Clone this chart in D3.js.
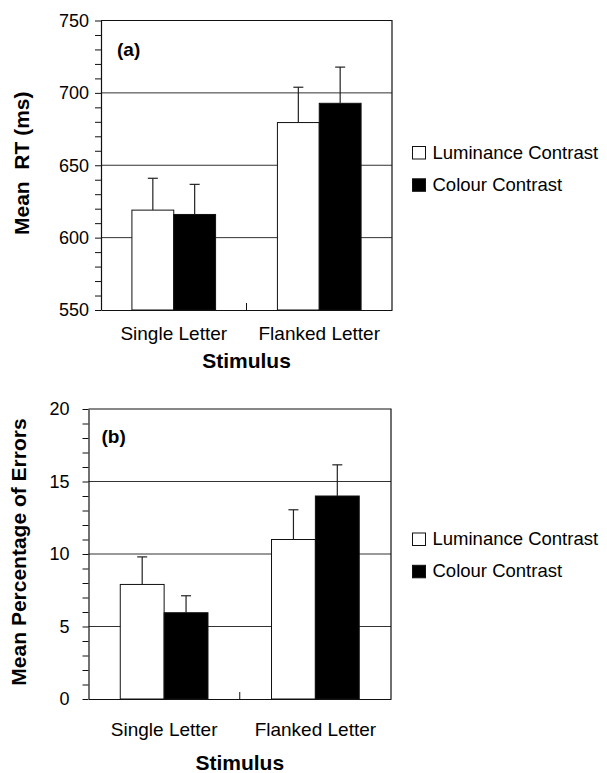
<!DOCTYPE html>
<html>
<head>
<meta charset="utf-8">
<script src="https://cdn.jsdelivr.net/npm/d3@7"></script>
<style>
  body { margin: 0; background: #fff; }
  svg { display: block; font-family: Arial, "Liberation Sans", sans-serif; }
</style>
</head>
<body>
<div id="chart-area"></div>
<script>
const categories = ["Single Letter", "Flanked Letter"];
const series = ["Luminance Contrast", "Colour Contrast"];

// panel (a): mean RT in ms
const rtLuminance = [619, 679.5];
const rtColour = [616, 692.8];
const rtLuminanceErr = [22, 24.4];
const rtColourErr = [20.8, 25];
const rtTicks = [550, 600, 650, 700, 750];

// panel (b): mean percentage of errors
const errLuminance = [7.9, 11.0];
const errColour = [5.95, 14.0];
const errLuminanceErr = [1.9, 2.05];
const errColourErr = [1.17, 2.15];
const errTicks = [0, 5, 10, 15, 20];

const svg = d3.select("#chart-area").append("svg")
    .attr("width", 607)
    .attr("height", 773);

const fill = d3.scaleOrdinal().domain(series).range(["#fff", "#000"]);

drawPanel(svg, {
    left: 101, right: 392, top: 20.5, bottom: 310,
    ticks: rtTicks, minorStep: 10, tickPad: 6,
    means: [rtLuminance, rtColour], errs: [rtLuminanceErr, rtColourErr],
    pad: 0.425, label: "(a)", labelX: 117, labelY: 56,
    yTitle: "Mean\u00A0 RT (ms)", yTitleX: 28.5, catY: 29.5, xTitleY: 58.3,
    legendTop: 146.5
});

drawPanel(svg, {
    left: 88.5, right: 391, top: 409, bottom: 699,
    ticks: errTicks, minorStep: 1, tickPad: 13,
    means: [errLuminance, errColour], errs: [errLuminanceErr, errColourErr],
    pad: 0.42, label: "(b)", labelX: 101.5, labelY: 442.5,
    yTitle: "Mean Percentage of Errors", yTitleX: 25.7, catY: 36.7, xTitleY: 70.5,
    legendTop: 533
});

function drawPanel(svg, cfg) {
    const g = svg.append("g");

    const x = d3.scaleBand()
        .domain(categories)
        .range([cfg.left, cfg.right])
        .paddingInner(cfg.pad)
        .paddingOuter(cfg.pad / 2);
    const xs = d3.scaleBand()
        .domain(series)
        .range([0, x.bandwidth()]);

    const domain = d3.extent(cfg.ticks);
    const y = d3.scaleLinear()
        .domain(domain)
        .range([cfg.bottom, cfg.top]);

    // gridlines on the inner major ticks
    g.selectAll("line.grid")
        .data(cfg.ticks.slice(1, -1))
        .join("line")
        .attr("class", "grid")
        .attr("x1", cfg.left).attr("x2", cfg.right)
        .attr("y1", d => y(d)).attr("y2", d => y(d))
        .attr("stroke", "#333")
        .attr("stroke-width", 1);

    // top and right frame
    g.append("path")
        .attr("d", `M${cfg.left},${y(domain[1])}H${cfg.right}V${y(domain[0])}`)
        .attr("fill", "none")
        .attr("stroke", "#111")
        .attr("stroke-width", 1.2);

    const rows = categories.flatMap((c, i) => series.map((s, j) => ({
        cat: c, ser: s, value: cfg.means[j][i], err: cfg.errs[j][i]
    })));

    g.selectAll("rect.bar")
        .data(rows)
        .join("rect")
        .attr("class", "bar")
        .attr("x", d => x(d.cat) + xs(d.ser))
        .attr("y", d => y(d.value))
        .attr("width", xs.bandwidth())
        .attr("height", d => y(domain[0]) - y(d.value))
        .attr("fill", d => fill(d.ser))
        .attr("stroke", "#111")
        .attr("stroke-width", 1);

    // error bars, upward only
    const capW = 10;
    const eb = g.selectAll("g.err")
        .data(rows)
        .join("g")
        .attr("class", "err")
        .attr("stroke", "#222")
        .attr("stroke-width", 1.2);
    eb.append("line")
        .attr("x1", d => x(d.cat) + xs(d.ser) + xs.bandwidth() / 2)
        .attr("x2", d => x(d.cat) + xs(d.ser) + xs.bandwidth() / 2)
        .attr("y1", d => y(d.value))
        .attr("y2", d => y(d.value + d.err));
    eb.append("line")
        .attr("x1", d => x(d.cat) + xs(d.ser) + xs.bandwidth() / 2 - capW / 2)
        .attr("x2", d => x(d.cat) + xs(d.ser) + xs.bandwidth() / 2 + capW / 2)
        .attr("y1", d => y(d.value + d.err))
        .attr("y2", d => y(d.value + d.err));

    // y axis with minor ticks
    const minor = d3.range(domain[0], domain[1] + cfg.minorStep / 2, cfg.minorStep);
    const yAxisCall = d3.axisLeft(y)
        .tickValues(minor)
        .tickSize(6)
        .tickSizeOuter(0)
        .tickPadding(cfg.tickPad)
        .tickFormat(d => cfg.ticks.includes(d) ? d : "");
    const ya = g.append("g")
        .attr("transform", `translate(${cfg.left},0)`)
        .call(yAxisCall);
    ya.select(".domain").attr("stroke", "#111").attr("stroke-width", 1.2);
    ya.selectAll(".tick line").attr("stroke", "#111");
    ya.selectAll("text")
        .attr("font-size", 18)
        .attr("font-family", "Arial, 'Liberation Sans', sans-serif")
        .attr("fill", "#000");

    // x axis
    const xAxisCall = d3.axisBottom(x).tickSize(0).tickSizeOuter(0);
    const xa = g.append("g")
        .attr("transform", `translate(0,${cfg.bottom})`)
        .call(xAxisCall);
    xa.select(".domain").attr("stroke", "#111").attr("stroke-width", 1.2);
    xa.selectAll("text")
        .attr("dy", null)
        .attr("y", cfg.catY)
        .attr("font-size", 19)
        .attr("font-family", "Arial, 'Liberation Sans', sans-serif")
        .attr("fill", "#000");

    // tick between the categories
    const mid = (x(categories[0]) + x.bandwidth() + x(categories[1])) / 2;
    xa.append("line")
        .attr("x1", mid).attr("x2", mid)
        .attr("y1", 0).attr("y2", -7)
        .attr("stroke", "#111");

    // x title
    g.append("text")
        .attr("x", (cfg.left + cfg.right) / 2)
        .attr("y", cfg.bottom + cfg.xTitleY)
        .attr("text-anchor", "middle")
        .attr("font-size", 21)
        .attr("font-weight", "bold")
        .text("Stimulus");

    // y title
    g.append("text")
        .attr("transform", `translate(${cfg.yTitleX},${(cfg.top + cfg.bottom) / 2 - 2}) rotate(-90)`)
        .attr("text-anchor", "middle")
        .attr("font-size", 21)
        .attr("font-weight", "bold")
        .text(cfg.yTitle);

    // panel label
    g.append("text")
        .attr("x", cfg.labelX)
        .attr("y", cfg.labelY)
        .attr("font-size", 19)
        .attr("font-weight", "bold")
        .text(cfg.label);

    // legend
    const lg = g.append("g")
        .attr("transform", `translate(412.5,${cfg.legendTop})`);
    const item = lg.selectAll("g")
        .data(series)
        .join("g")
        .attr("transform", (d, i) => `translate(0,${i * 32.3})`);
    item.append("rect")
        .attr("width", 13).attr("height", 12.5)
        .attr("fill", d => fill(d))
        .attr("stroke", "#111")
        .attr("stroke-width", 1);
    item.append("text")
        .attr("x", 20)
        .attr("y", 12)
        .attr("font-size", 18.5)
        .text(d => d);
}
</script>
</body>
</html>
